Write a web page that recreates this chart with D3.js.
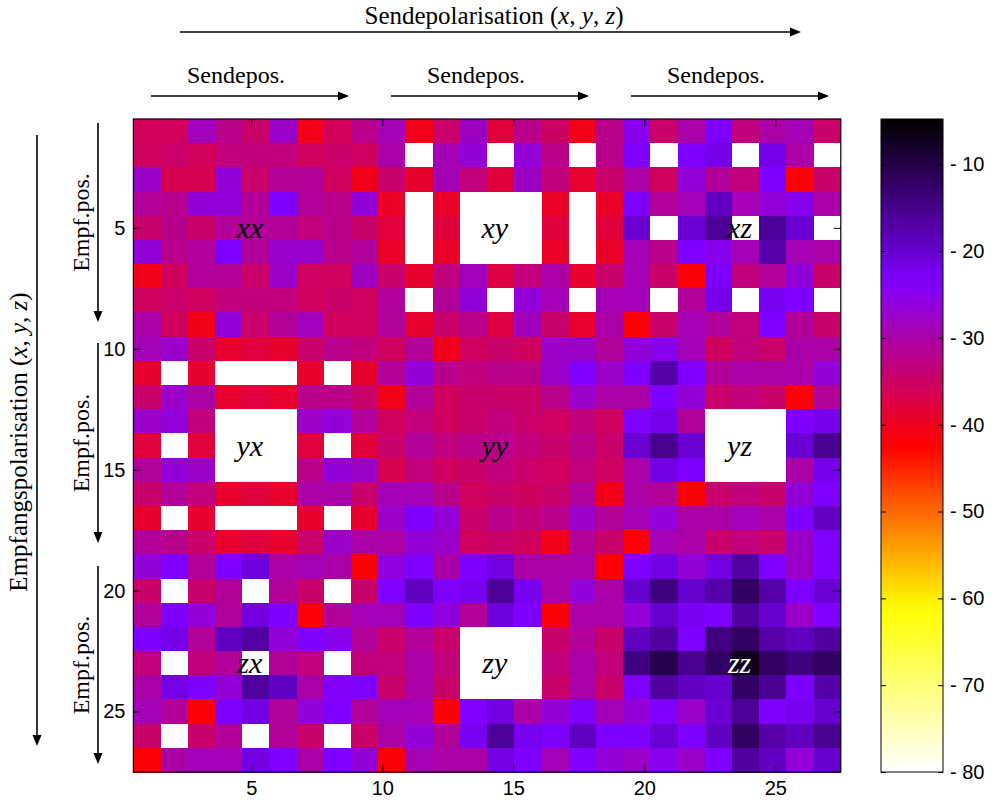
<!DOCTYPE html>
<html>
<head>
<meta charset="utf-8">
<script src="https://cdn.jsdelivr.net/npm/d3@7"></script>
<style>
  body { margin: 0; background: #fff; }
  svg { display: block; }
</style>
</head>
<body>
<svg width="998" height="805"></svg>
<script>
// Achsen- und Farbskalen-Beschriftungen
const xTicks = [5, 10, 15, 20, 25];
const yTicks = [5, 10, 15, 20, 25];
const cbTicks = [-10, -20, -30, -40, -50, -60, -70, -80];
const cMin = -80, cMax = -4.8;

// Blockbeschriftungen (Empfang x Sende-Polarisation) und ihre Zellen
const cellLabels = ["xx", "xy", "xz", "yx", "yy", "yz", "zx", "zy", "zz"];
const labelCols = [5, 14, 23];
const labelRows = [5, 14, 23];

const N = null; // leere (weisse) Zellen

// Empfangspolarisation x (Zeilen 1-9), je 26 Spalten
const rxX = [
  [-35.7,-35.7,-28.5,-32,-34.5,-27.5,-40.5,-35.7,-32, -29,-40.5,-34.5,-28,-38,-32,-35,-40.5,-32, -25,-34.5,-30,-23.6,-33.3,-30,-29,-34.5],
  [-35.5,-34.5,-35.7,-33.3,-33.3,-33.3,-35.5,-34.5,-35.5, -30,N,-29,-26.5,N,-26.5,-32,N,-32, -23.6,N,-23.6,-22,N,-22,-30,N],
  [-27.5,-36.5,-36.5,-26.5,-34.5,-31,-31,-35.5,-40.5, -34.5,-39,-29,-33.3,-38,-28,-33.3,-39,-34.5, -30,-35.5,-26.5,-31,-33.3,-23.6,-42,-34.5],
  [-31,-32,-26.5,-26.5,-31,-23.6,-31,-32,-26.5, -39.5,N,-39.5,N,N,N,-39.5,N,-39.5, -23.6,-31,-29,-19,-29,-26.5,-25,-30],
  [-34.5,-32,-34.5,-31,-31,-31,-33.3,-32,-34.5, -38,N,-38,N,N,N,-38,N,-38, -20.5,N,-20.5,-16,N,-16,-20.5,N],
  [-26.5,-32,-30.8,-23.6,-31,-27.3,-27.3,-32,-30.8, -39.5,N,-39.5,N,N,N,-39.5,N,-39.5, -29,-32,-23.6,-25,-29,-17.5,-29,-30],
  [-40.5,-35.5,-31,-31,-34.5,-27.5,-35.5,-35.5,-28, -34.5,-39,-33.3,-28.5,-37.5,-33.3,-30,-39,-34.5, -29,-34.5,-42,-23.6,-33.3,-31,-26.5,-34.5],
  [-35.5,-34.5,-35.5,-33.3,-33.3,-33.3,-35.5,-34.5,-35.5, -31,N,-31,-26.5,N,-26.5,-29,N,-29, -29,N,-31,-22,N,-22.5,-23.6,N],
  [-30,-35.5,-40.5,-26.5,-34.5,-31,-28.5,-35.5,-35.5, -31,-39,-34.5,-32,-37.5,-28.5,-34.5,-39,-30, -42,-34.5,-29,-31,-33.3,-23.6,-31,-34.5]
];

// Empfangspolarisation y (Zeilen 10-18)
const rxY = [
  [-29,-27.5,-34.5,-39,-38,-39,-34.5,-32,-33.3, -35.5,-31,-40.5,-35.5,-34.5,-35.5,-27.5,-27.5,-31, -26.5,-25,-29,-35.5,-33.3,-34.5,-30,-30],
  [-39,N,-39,N,N,N,-39,N,-39, -31,-26.5,-32,-33.3,-32,-32,-27.5,-23.6,-27.5, -23.6,-17.5,-23.6,-31,-30,-30,-30,-26.5],
  [-34.5,-27.5,-30,-39,-38,-39,-32,-32,-34.5, -40.5,-31,-35.5,-34.5,-34.5,-34.5,-32,-27.5,-30, -30,-23.6,-26.5,-34.5,-33.3,-34.5,-42,-31],
  [-27.5,-26.5,-33.3,N,N,N,-27.5,-26.5,-31, -35.5,-33.3,-35.5,-34.5,-33.3,-34.5,-35.5,-33.3,-35.5, -23.6,-22,-31,N,N,N,-23.6,-22],
  [-38,N,-38,N,N,N,-38,N,-38, -34.5,-31,-33.3,-32,-32,-33.3,-34.5,-32,-34.5, -20.5,-15.5,-20.5,N,N,N,-20.5,-15.5],
  [-31,-26.5,-27.5,N,N,N,-32,-26.5,-27.5, -36.5,-33.3,-35.5,-34.5,-33.3,-34.5,-35.5,-33.3,-35.5, -30,-21.5,-23.6,N,N,N,-30,-22],
  [-34.5,-31,-33.3,-39,-38,-39,-30,-30,-34.5, -29,-29,-32,-35.5,-34.5,-35.5,-34.5,-31,-40.5, -30,-31,-42,-34.5,-33.3,-34.5,-26.5,-23.6],
  [-39,N,-39,N,N,N,-39,N,-39, -27.5,-23.6,-26.5,-34.5,-32,-33.3,-32,-27.5,-31, -29,-26.5,-30,-30,-29,-30,-23.6,-19],
  [-31,-32,-34.5,-39,-38,-39,-34.5,-27.5,-30, -30,-26.5,-27.5,-35.5,-34.5,-35.5,-40.5,-31,-34.5, -42,-29,-30,-34.5,-33.3,-34.5,-27.5,-23.6]
];

// Empfangspolarisation z (Zeilen 19-27)
const rxZ = [
  [-26.5,-23.6,-31,-23.6,-21,-30,-29,-30,-42, -26,-23.6,-30,-23.6,-21.5,-30,-30,-30,-42, -23.6,-21.5,-26.5,-21.5,-17,-23.6,-27.5,-23.6],
  [-34.5,N,-34.5,-31,N,-31,-34.5,N,-34.5, -23.6,-19,-23.6,-22.5,-16,-22.5,-30,-26.5,-30, -20,-14.2,-20,-17.5,-12,-17.5,-23.6,-20.5],
  [-31,-23.6,-26.5,-31,-21.5,-23.6,-42,-31,-29, -29,-23.6,-26,-31,-21,-23.6,-42,-30,-30, -26.5,-20,-22.5,-23.6,-16.5,-20,-27.5,-23.6],
  [-23.6,-22,-31,-19,-17,-26.5,-23.6,-25,-31, -34.5,-31,-34.5,N,N,N,-34.5,-31,-34.5, -19,-16.5,-23.6,-14.2,-12,-17.5,-19,-16.5],
  [-33.3,N,-33.3,-31,N,-31,-33.3,N,-33.3, -33.3,-30,-33.3,N,N,N,-33.3,-30,-33.3, -14.5,-10.5,-15.5,-12,-7,-12,-14.2,-12],
  [-30,-22,-23.6,-26.5,-16.5,-19,-30,-24,-23.6, -34.5,-30,-34.5,N,N,N,-34.5,-30,-34.5, -23.6,-16.5,-19,-20,-12,-15.5,-23.6,-17.5],
  [-29,-31,-42,-23.6,-21.5,-31,-26.5,-23.6,-31, -29,-29,-42,-23.6,-21.5,-30,-26.5,-23.6,-29, -26.5,-23.6,-27.5,-20.5,-16,-23.6,-22.5,-20],
  [-34.5,N,-34.5,-31,N,-31,-34.5,N,-34.5, -30,-26.5,-31,-22.5,-16,-22.5,-23.6,-19,-23.6, -23.6,-20.5,-23.6,-19,-12,-17.5,-19,-15.5],
  [-42,-30,-29,-29,-21.5,-23.6,-30,-23.6,-26.5, -42,-29,-30,-30,-21.5,-23.6,-29,-23.6,-26.5, -27.5,-25,-27.5,-23.6,-16.5,-19,-26.5,-20]
];

const rows = rxX.concat(rxY, rxZ);
const nRows = rows.length;
const nCols = rows[0].length;

const svg = d3.select("svg");

// Flaeche des Bildes
const plot = { left: 133.4, right: 840.8, top: 119, bottom: 772 };

const x = d3.scaleLinear().domain([0.5, 27.5]).range([plot.left, plot.right]);
const y = d3.scaleLinear().domain([0.5, 27.5]).range([plot.top, plot.bottom]);
const colBand = d3.scaleBand().domain(d3.range(1, nCols + 1)).range([plot.left, plot.right]);
const rowBand = d3.scaleBand().domain(d3.range(1, nRows + 1)).range([plot.top, plot.bottom]);

// Farbskala: schwarz -> violett -> rot -> gelb -> weiss
const cmap = ["#000000", "#8000ff", "#ff0000", "#ffff00", "#ffffff"];
const color = d3.scaleLinear()
  .domain(cmap.map((c, i) => cMax + (cMin - cMax) * i / (cmap.length - 1)))
  .range(cmap)
  .clamp(true);

const cells = [];
rows.forEach((r, i) => r.forEach((v, j) => cells.push({ row: i + 1, col: j + 1, v })));

svg.append("g")
  .attr("shape-rendering", "crispEdges")
  .selectAll("rect")
  .data(cells)
  .join("rect")
  .attr("x", d => colBand(d.col))
  .attr("y", d => rowBand(d.row))
  .attr("width", colBand.bandwidth() + 0.6)
  .attr("height", rowBand.bandwidth() + 0.6)
  .attr("fill", d => d.v === null ? color(cMin) : color(d.v));

// Blockbeschriftungen
const labelData = cellLabels.map((t, i) => ({
  t, col: labelCols[i % 3], row: labelRows[Math.floor(i / 3)]
}));
svg.append("g")
  .selectAll("text")
  .data(labelData)
  .join("text")
  .attr("x", d => colBand(d.col) + colBand.bandwidth() / 2 - 6)
  .attr("y", d => rowBand(d.row) + rowBand.bandwidth() / 2 + 10)
  .attr("text-anchor", "middle")
  .attr("font-family", "'Liberation Serif', 'DejaVu Serif', serif")
  .attr("font-style", "italic")
  .attr("font-size", 30)
  .attr("fill", d => d.t === "zz" ? "#ffffff" : "#000000")
  .text(d => d.t);

// Achsen mit Strichen nach innen
const tickFont = "'Liberation Sans', Arial, sans-serif";
function styleAxis(g) {
  g.select(".domain").remove();
  g.selectAll("line").attr("stroke", "#000").attr("stroke-width", 1);
  g.selectAll("text").attr("font-family", tickFont).attr("font-size", 20).attr("fill", "#000");
}

svg.append("g")
  .attr("transform", `translate(0,${plot.bottom})`)
  .call(d3.axisBottom(x).tickValues(xTicks).tickSizeInner(-7).tickSizeOuter(0).tickPadding(9))
  .call(styleAxis);
svg.append("g")
  .attr("transform", `translate(0,${plot.top})`)
  .call(d3.axisTop(x).tickValues(xTicks).tickSizeInner(-7).tickSizeOuter(0).tickFormat(""))
  .call(styleAxis);
svg.append("g")
  .attr("transform", `translate(${plot.left},0)`)
  .call(d3.axisLeft(y).tickValues(yTicks).tickSizeInner(-7).tickSizeOuter(0).tickPadding(8))
  .call(styleAxis);
svg.append("g")
  .attr("transform", `translate(${plot.right},0)`)
  .call(d3.axisRight(y).tickValues(yTicks).tickSizeInner(-7).tickSizeOuter(0).tickFormat(""))
  .call(styleAxis);

svg.append("rect")
  .attr("x", plot.left).attr("y", plot.top)
  .attr("width", plot.right - plot.left).attr("height", plot.bottom - plot.top)
  .attr("fill", "none").attr("stroke", "#000").attr("stroke-width", 1.2);

// Farbbalken
const cb = { left: 881, right: 943 };
const cbScale = d3.scaleLinear().domain([cMin, cMax]).range([plot.bottom, plot.top]);

const grad = svg.append("defs").append("linearGradient")
  .attr("id", "cbGrad")
  .attr("x1", 0).attr("y1", 1).attr("x2", 0).attr("y2", 0);
grad.selectAll("stop")
  .data(d3.range(0, 1.0001, 0.02))
  .join("stop")
  .attr("offset", d => d)
  .attr("stop-color", d => color(cMin + (cMax - cMin) * d));

svg.append("rect")
  .attr("x", cb.left).attr("y", plot.top)
  .attr("width", cb.right - cb.left).attr("height", plot.bottom - plot.top)
  .attr("fill", "url(#cbGrad)")
  .attr("stroke", "#000").attr("stroke-width", 1);

svg.append("g")
  .attr("transform", `translate(${cb.right},0)`)
  .call(d3.axisRight(cbScale).tickValues(cbTicks).tickSizeInner(-5).tickSizeOuter(0).tickPadding(7)
    .tickFormat(d => "- " + Math.abs(d)))
  .call(styleAxis);
svg.append("g")
  .attr("transform", `translate(${cb.left},0)`)
  .call(d3.axisLeft(cbScale).tickValues(cbTicks).tickSizeInner(-5).tickSizeOuter(0).tickFormat(""))
  .call(styleAxis);

// Pfeile und Beschriftungen der Polarisation/Positionen
const serif = "'Liberation Serif', 'DejaVu Serif', serif";
const annot = svg.append("g");

function arrow(x1, y1, x2, y2) {
  const a = Math.atan2(y2 - y1, x2 - x1);
  const len = 11, half = 4.5;
  const bx = x2 - len * Math.cos(a), by = y2 - len * Math.sin(a);
  annot.append("line")
    .attr("x1", x1).attr("y1", y1)
    .attr("x2", bx + 2 * Math.cos(a)).attr("y2", by + 2 * Math.sin(a))
    .attr("stroke", "#000").attr("stroke-width", 1.6);
  annot.append("path")
    .attr("d", `M${x2},${y2} L${bx - half * Math.sin(a)},${by + half * Math.cos(a)} L${bx + half * Math.sin(a)},${by - half * Math.cos(a)} Z`)
    .attr("fill", "#000");
}

function polText(t, px, py, rotate) {
  const el = annot.append("text")
    .attr("text-anchor", "middle")
    .attr("font-family", serif)
    .attr("font-size", 25)
    .attr("transform", rotate ? `translate(${px},${py}) rotate(-90)` : `translate(${px},${py})`);
  el.append("tspan").text(t + " (");
  ["x", "y", "z"].forEach((v, i) => {
    el.append("tspan").attr("font-style", "italic").text(v);
    el.append("tspan").text(i < 2 ? ", " : ")");
  });
}

function posText(t, px, py, rotate) {
  annot.append("text")
    .attr("text-anchor", "middle")
    .attr("font-family", serif)
    .attr("font-size", 24)
    .attr("transform", rotate ? `translate(${px},${py}) rotate(-90)` : `translate(${px},${py})`)
    .text(t);
}

// oben: Sendepolarisation
arrow(180, 32, 801, 32);
polText("Sendepolarisation", 494, 24, false);

const sendArrows = [[151, 349], [391, 589], [631, 829]];
sendArrows.forEach(([a, b]) => {
  arrow(a, 96, b, 96);
  posText("Sendepos.", (a + b) / 2 - 14, 83, false);
});

// links: Empfangspolarisation
arrow(37, 135, 37, 746);
polText("Empfangspolarisation", 27, 442, true);

const empfArrows = [[123, 322], [343, 543], [566, 764]];
empfArrows.forEach(([a, b]) => {
  arrow(98, a, 98, b);
  posText("Empf.pos.", 89, (a + b) / 2, true);
});
</script>
</body>
</html>
